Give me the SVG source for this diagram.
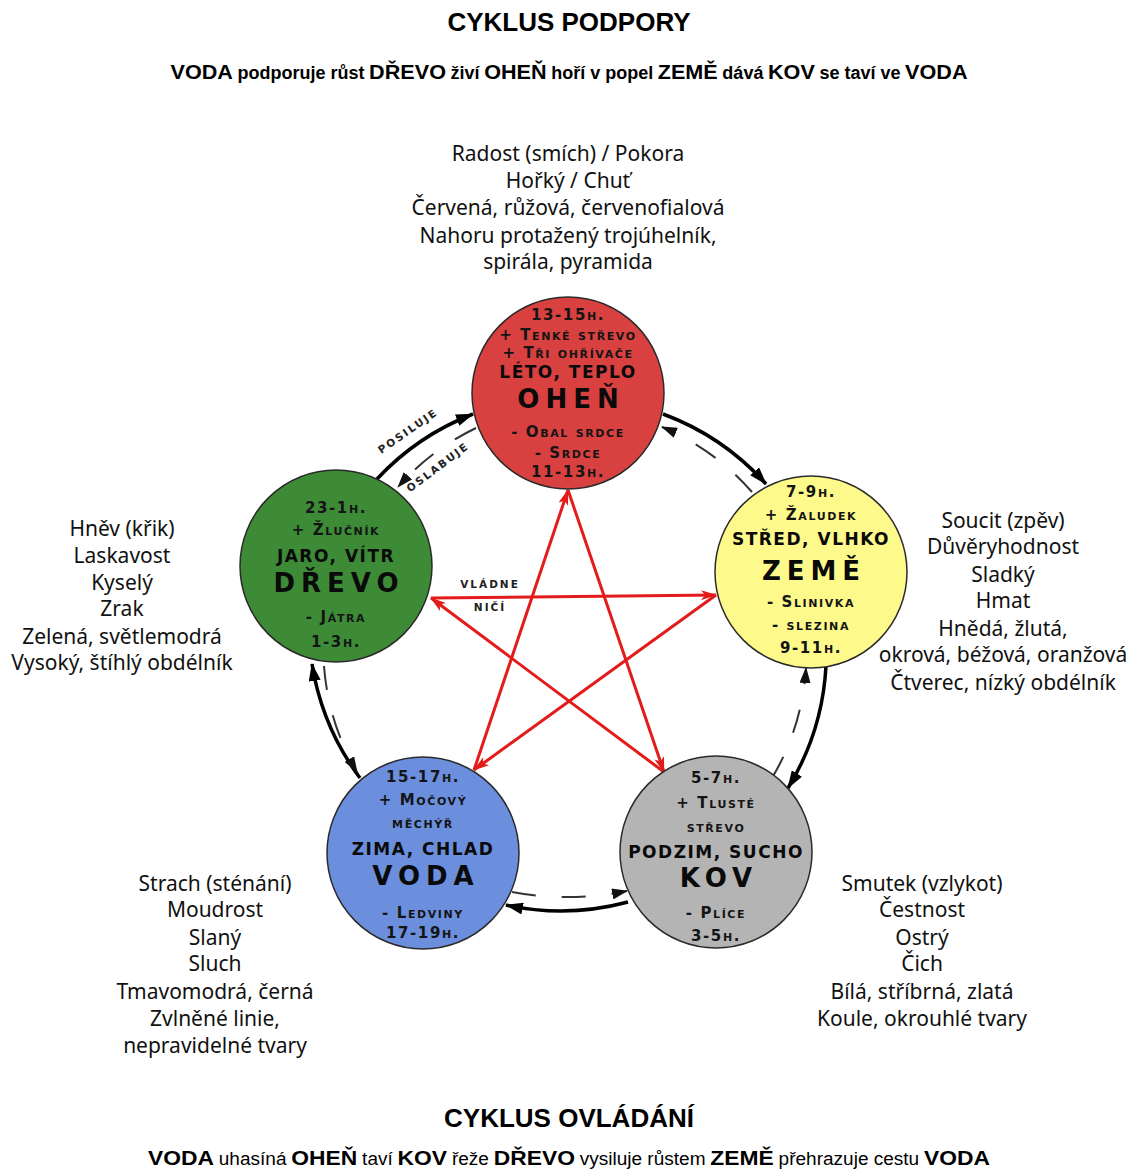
<svg xmlns="http://www.w3.org/2000/svg" width="1138" height="1171" viewBox="0 0 1138 1171">
<defs>
<style>
.title{font-family:"Liberation Sans",Arial,sans-serif;font-weight:bold;font-size:26px;text-anchor:middle;fill:#000}
.sub{font-family:"Liberation Sans",Arial,sans-serif;text-anchor:middle;fill:#000}
.big{font-weight:bold;font-size:21px}
.sm{font-weight:bold;font-size:17.5px}
.smn{font-weight:normal;font-size:17.5px}
.out{font-family:"Noto Sans","DejaVu Sans",sans-serif;font-size:21px;text-anchor:middle;fill:#111}
.c{font-family:"DejaVu Sans",sans-serif;font-weight:bold;font-size:15px;font-variant:small-caps;letter-spacing:1.6px;text-anchor:middle;fill:#141414}
.sea{font-family:"DejaVu Sans",sans-serif;font-weight:bold;font-size:17px;letter-spacing:1.5px;text-anchor:middle;fill:#0a0a0a}
.el{font-family:"DejaVu Sans",sans-serif;font-weight:bold;font-size:26px;letter-spacing:6px;text-anchor:middle;fill:#0a0a0a}
.lab{font-family:"DejaVu Sans",sans-serif;font-weight:bold;font-size:10.5px;letter-spacing:2px;text-anchor:middle;fill:#222}
.node{stroke:#2a2a2a;stroke-width:1.5}
.solid{fill:none;stroke:#000;stroke-width:3.5}
.dash{fill:none;stroke:#333;stroke-width:2;stroke-dasharray:24 26}
.red{fill:none;stroke:#e31b1b;stroke-width:3}
</style>
<marker id="ab" viewBox="0 0 18 12" refX="17" refY="6" markerWidth="18" markerHeight="12" orient="auto" markerUnits="userSpaceOnUse"><path d="M0,0 L18,6 L0,12 z" fill="#000"/></marker>
<marker id="ad" viewBox="0 0 16 11" refX="15" refY="5.5" markerWidth="16" markerHeight="11" orient="auto" markerUnits="userSpaceOnUse"><path d="M0,0 L16,5.5 L0,11 z" fill="#111"/></marker>
<marker id="ar" viewBox="0 0 16 10" refX="15" refY="5" markerWidth="16" markerHeight="10" orient="auto" markerUnits="userSpaceOnUse"><path d="M0,0 L16,5 L0,10 L4,5 z" fill="#e31b1b"/></marker>
</defs>
<rect width="1138" height="1171" fill="#fff"/>

<text class="title" x="569" y="31">CYKLUS PODPORY</text>
<text class="sub" x="569" y="79" textLength="797" lengthAdjust="spacingAndGlyphs"><tspan class="big">VODA</tspan> <tspan class="sm">podporuje růst</tspan> <tspan class="big">DŘEVO</tspan> <tspan class="sm">živí</tspan> <tspan class="big">OHEŇ</tspan> <tspan class="sm">hoří v popel</tspan> <tspan class="big">ZEMĚ</tspan> <tspan class="sm">dává</tspan> <tspan class="big">KOV</tspan> <tspan class="sm">se taví ve</tspan> <tspan class="big">VODA</tspan></text>

<g id="connectors">
<path class="solid" marker-end="url(#ab)" d="M377,479 A260,260 0 0 1 473,414"/>
<path class="solid" marker-end="url(#ab)" d="M663,414 A260,260 0 0 1 766,484"/>
<path class="solid" marker-end="url(#ab)" d="M826,666 A260,260 0 0 1 788,788"/>
<path class="solid" marker-end="url(#ab)" d="M628,902 A260,260 0 0 1 506,905"/>
<path class="solid" marker-end="url(#ab)" d="M360,778 A260,260 0 0 1 312,664"/>
<path class="dash" marker-end="url(#ad)" d="M476,428 A245,245 0 0 0 398,487"/>
<path class="dash" marker-end="url(#ad)" d="M752,492 A245,245 0 0 0 662,427"/>
<path class="dash" marker-end="url(#ad)" d="M772,778 A245,245 0 0 0 806,668"/>
<path class="dash" marker-end="url(#ad)" d="M512,892 A300,300 0 0 0 627,891"/>
<path class="dash" marker-end="url(#ad)" d="M324,666 A245,245 0 0 0 357,772"/>
<path class="red" marker-end="url(#ar)" d="M474,770 L568,490"/>
<path class="red" marker-end="url(#ar)" d="M568,490 L664,772"/>
<path class="red" marker-end="url(#ar)" d="M664,772 L431,598"/>
<path class="red" marker-end="url(#ar)" d="M431,598 L716,595"/>
<path class="red" marker-end="url(#ar)" d="M716,595 L474,770"/>
<text class="lab" transform="translate(410,434) rotate(-35)">POSILUJE</text>
<text class="lab" transform="translate(440,470) rotate(-37)">OSLABUJE</text>
<text class="lab" x="490" y="588">VLÁDNE</text>
<text class="lab" x="490" y="611">NIČÍ</text>
</g>

<g id="ohen">
<circle class="node" cx="568" cy="393" r="96" fill="#d94141"/>
<text class="c" x="568" y="320">13-15h.</text>
<text class="c" x="568" y="340">+ Tenké střevo</text>
<text class="c" x="568" y="358">+ Tři ohřívače</text>
<text class="sea" x="568" y="378">LÉTO, TEPLO</text>
<text class="el" x="571" y="408">OHEŇ</text>
<text class="c" x="568" y="437">- Obal srdce</text>
<text class="c" x="568" y="458">- Srdce</text>
<text class="c" x="568" y="477">11-13h.</text>
</g>

<g id="drevo">
<circle class="node" cx="336" cy="566" r="96" fill="#3d8b37"/>
<text class="c" x="336" y="513">23-1h.</text>
<text class="c" x="336" y="535">+ Žlučník</text>
<text class="sea" x="336" y="562">JARO, VÍTR</text>
<text class="el" x="339" y="592">DŘEVO</text>
<text class="c" x="336" y="622">- Játra</text>
<text class="c" x="336" y="647">1-3h.</text>
</g>

<g id="zeme">
<circle class="node" cx="811" cy="572" r="96" fill="#fdf98b"/>
<text class="c" x="811" y="497">7-9h.</text>
<text class="c" x="811" y="520">+ Žaludek</text>
<text class="sea" x="811" y="545">STŘED, VLHKO</text>
<text class="el" x="814" y="580">ZEMĚ</text>
<text class="c" x="811" y="607">- Slinivka</text>
<text class="c" x="811" y="630">- slezina</text>
<text class="c" x="811" y="653">9-11h.</text>
</g>

<g id="voda">
<circle class="node" cx="423" cy="853" r="96" fill="#6b8fdd"/>
<text class="c" x="423" y="782">15-17h.</text>
<text class="c" x="423" y="805">+ Močový</text>
<text class="c" x="423" y="828">měchýř</text>
<text class="sea" x="423" y="855">ZIMA, CHLAD</text>
<text class="el" x="426" y="885">VODA</text>
<text class="c" x="423" y="918">- Ledviny</text>
<text class="c" x="423" y="938">17-19h.</text>
</g>

<g id="kov">
<circle class="node" cx="716" cy="852" r="96" fill="#b4b4b4"/>
<text class="c" x="716" y="783">5-7h.</text>
<text class="c" x="716" y="808">+ Tlusté</text>
<text class="c" x="716" y="832">střevo</text>
<text class="sea" x="716" y="858">PODZIM, SUCHO</text>
<text class="el" x="719" y="887">KOV</text>
<text class="c" x="716" y="918">- Plíce</text>
<text class="c" x="716" y="941">3-5h.</text>
</g>

<g id="text-ohen">
<text class="out" x="568" y="161">Radost (smích) / Pokora</text>
<text class="out" x="568" y="188">Hořký / Chuť</text>
<text class="out" x="568" y="215">Červená, růžová, červenofialová</text>
<text class="out" x="568" y="243">Nahoru protažený trojúhelník,</text>
<text class="out" x="568" y="269">spirála, pyramida</text>
</g>
<g id="text-drevo">
<text class="out" x="122" y="536">Hněv (křik)</text>
<text class="out" x="122" y="563">Laskavost</text>
<text class="out" x="122" y="590">Kyselý</text>
<text class="out" x="122" y="616">Zrak</text>
<text class="out" x="122" y="644">Zelená, světlemodrá</text>
<text class="out" x="122" y="670">Vysoký, štíhlý obdélník</text>
</g>
<g id="text-zeme">
<text class="out" x="1003" y="528">Soucit (zpěv)</text>
<text class="out" x="1003" y="554">Důvěryhodnost</text>
<text class="out" x="1003" y="582">Sladký</text>
<text class="out" x="1003" y="608">Hmat</text>
<text class="out" x="1003" y="636">Hnědá, žlutá,</text>
<text class="out" x="1003" y="662">okrová, béžová, oranžová</text>
<text class="out" x="1003" y="690">Čtverec, nízký obdélník</text>
</g>
<g id="text-voda">
<text class="out" x="215" y="891">Strach (sténání)</text>
<text class="out" x="215" y="917">Moudrost</text>
<text class="out" x="215" y="945">Slaný</text>
<text class="out" x="215" y="971">Sluch</text>
<text class="out" x="215" y="999">Tmavomodrá, černá</text>
<text class="out" x="215" y="1026">Zvlněné linie,</text>
<text class="out" x="215" y="1053">nepravidelné tvary</text>
</g>
<g id="text-kov">
<text class="out" x="922" y="891">Smutek (vzlykot)</text>
<text class="out" x="922" y="917">Čestnost</text>
<text class="out" x="922" y="945">Ostrý</text>
<text class="out" x="922" y="971">Čich</text>
<text class="out" x="922" y="999">Bílá, stříbrná, zlatá</text>
<text class="out" x="922" y="1026">Koule, okrouhlé tvary</text>
</g>

<text class="title" x="569" y="1127">CYKLUS OVLÁDÁNÍ</text>
<text class="sub" x="569" y="1165" textLength="842" lengthAdjust="spacingAndGlyphs"><tspan class="big">VODA</tspan> <tspan class="smn">uhasíná</tspan> <tspan class="big">OHEŇ</tspan> <tspan class="smn">taví</tspan> <tspan class="big">KOV</tspan> <tspan class="smn">řeže</tspan> <tspan class="big">DŘEVO</tspan> <tspan class="smn">vysiluje růstem</tspan> <tspan class="big">ZEMĚ</tspan> <tspan class="smn">přehrazuje cestu</tspan> <tspan class="big">VODA</tspan></text>
</svg>
